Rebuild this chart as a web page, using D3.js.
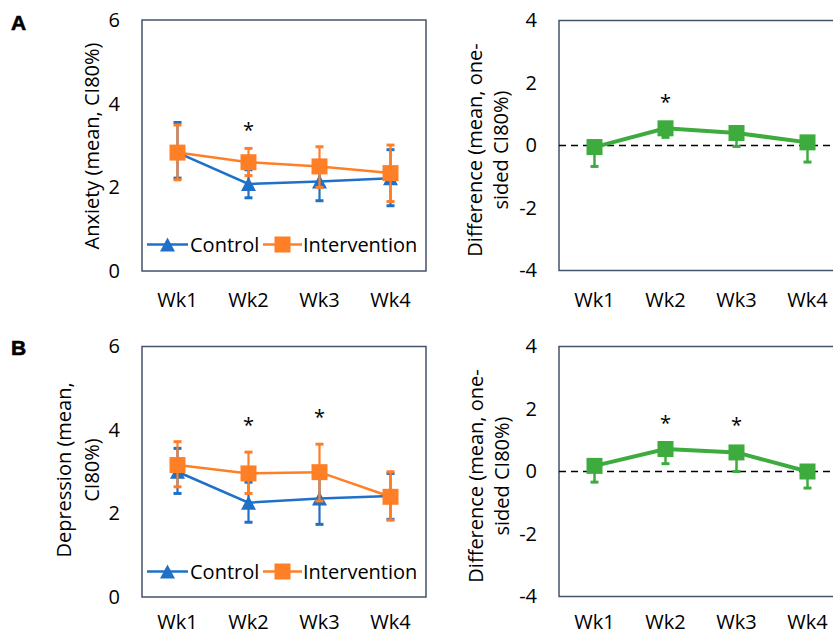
<!DOCTYPE html>
<html>
<head>
<meta charset="utf-8">
<script src="https://cdn.jsdelivr.net/npm/d3@7"></script>
<style>
    body { margin: 0; background: #fff; }
    svg { display: block; }
</style>
</head>
<body>
<script>
// ---- data ----
const weeks = ["Wk1", "Wk2", "Wk3", "Wk4"];

// A: anxiety
const anxControl = [2.83, 2.08, 2.14, 2.22];
const anxControlLo = [2.22, 1.75, 1.68, 1.56];
const anxControlHi = [3.55, 2.42, 2.60, 2.90];
const anxInterv = [2.83, 2.60, 2.50, 2.34];
const anxIntervLo = [2.18, 2.28, 2.00, 1.66];
const anxIntervHi = [3.49, 2.93, 2.97, 3.01];
const anxStars = [null, 3.57, null, null];

const anxDiff = [-0.05, 0.55, 0.40, 0.10];
const anxDiffLo = [-0.67, 0.26, -0.03, -0.53];
const anxDiffStars = [null, 1.64, null, null];

// B: depression
const depControl = [3.00, 2.26, 2.36, 2.42];
const depControlLo = [2.48, 1.79, 1.74, 1.86];
const depControlHi = [3.56, 2.75, 2.95, 2.96];
const depInterv = [3.16, 2.96, 2.99, 2.40];
const depIntervLo = [2.64, 2.48, 2.30, 1.84];
const depIntervHi = [3.72, 3.47, 3.66, 3.00];
const depStars = [null, 4.30, 4.50, null];

const depDiff = [0.18, 0.72, 0.61, 0.00];
const depDiffLo = [-0.34, 0.25, 0.00, -0.53];
const depDiffStars = [null, 1.80, 1.75, null];

const groupTicks = [0, 2, 4, 6];
const diffTicks = [-4, -2, 0, 2, 4];

// ---- styling ----
const FONT = "'Open Sans', sans-serif";
const FS = 20;
const colors = {
    control: "#1f70c8",
    intervention: "#ff7f27",
    diff: "#3dab3d",
    frame: "#44546a"
};

const svg = d3.select("body").append("svg")
    .attr("width", 833)
    .attr("height", 637)
    .attr("font-family", FONT);

// marker shapes, centred on the point
function triangle(w, h) {
    return `M0,${-h / 2}L${w / 2},${h / 2}L${-w / 2},${h / 2}Z`;
}
function square(s) {
    return `M${-s / 2},${-s / 2}h${s}v${s}h${-s}Z`;
}
const markers = {
    triangle: triangle(15, 14),
    square: square(16)
};

function frame(g, box) {
    g.append("rect")
        .attr("x", box.left)
        .attr("y", box.top)
        .attr("width", box.right - box.left)
        .attr("height", box.bottom - box.top)
        .attr("fill", "none")
        .attr("stroke", colors.frame)
        .attr("stroke-width", 1.5);
}

function axes(g, box, x, y, ticks) {
    g.append("g")
        .attr("transform", `translate(${box.left},0)`)
        .call(d3.axisLeft(y).tickValues(ticks).tickSize(0).tickPadding(22).tickFormat(d => String(d)))
        .call(a => a.select(".domain").remove())
        .attr("font-family", FONT)
        .attr("font-size", FS);

    g.append("g")
        .attr("transform", `translate(0,${box.bottom})`)
        .call(d3.axisBottom(x).tickSize(0).tickPadding(box.xPad))
        .call(a => a.select(".domain").remove())
        .attr("font-family", FONT)
        .attr("font-size", FS);
}

function yTitle(g, lines, cx, cy) {
    lines.forEach((t, i) => {
        g.append("text")
            .attr("transform", `translate(${cx[i]},${cy}) rotate(-90)`)
            .attr("text-anchor", "middle")
            .attr("dy", "0.35em")
            .attr("font-size", FS)
            .attr("fill", "#000")
            .text(t);
    });
}

function stars(g, x, y, vals) {
    g.selectAll("text.star")
        .data(weeks.map((w, i) => ({ w, v: vals[i] })).filter(d => d.v != null))
        .join("text")
        .attr("class", "star")
        .attr("x", d => x(d.w) + x.bandwidth() / 2)
        .attr("y", d => y(d.v))
        .attr("dy", "0.75em")
        .attr("text-anchor", "middle")
        .attr("font-size", FS)
        .text("*");
}

function groupPanel(box, series, starVals, title, legendY) {
    const g = svg.append("g");
    const x = d3.scaleBand().domain(weeks).range([box.left, box.right]);
    const y = d3.scaleLinear().domain([0, 6]).range([box.bottom, box.top]);
    const cx = w => x(w) + x.bandwidth() / 2;

    frame(g, box);
    axes(g, box, x, y, groupTicks);
    yTitle(g, title.lines, title.x, title.y);

    series.forEach(s => {
        const rows = weeks.map((w, i) => ({ w, v: s.values[i], lo: s.lo[i], hi: s.hi[i] }));
        const sg = g.append("g");

        sg.append("path")
            .datum(rows)
            .attr("fill", "none")
            .attr("stroke", s.color)
            .attr("stroke-width", 2.5)
            .attr("d", d3.line().x(d => cx(d.w)).y(d => y(d.v)));

        const bars = sg.selectAll("g.bar").data(rows).join("g").attr("class", "bar");
        bars.append("line")
            .attr("x1", d => cx(d.w)).attr("x2", d => cx(d.w))
            .attr("y1", d => y(d.lo)).attr("y2", d => y(d.hi))
            .attr("stroke", s.color).attr("stroke-width", 2.2);
        ["lo", "hi"].forEach(k => {
            bars.append("line")
                .attr("x1", d => cx(d.w) - 4).attr("x2", d => cx(d.w) + 4)
                .attr("y1", d => y(d[k])).attr("y2", d => y(d[k]))
                .attr("stroke", s.color).attr("stroke-width", 3);
        });

        sg.selectAll("path.mk").data(rows).join("path")
            .attr("class", "mk")
            .attr("d", markers[s.marker])
            .attr("transform", d => `translate(${cx(d.w)},${y(d.v)})`)
            .attr("fill", s.color);
    });

    stars(g, x, y, starVals);

    // legend
    const lg = g.append("g").attr("transform", `translate(${box.left},${legendY})`);
    const items = [
        { s: series[0], x0: 5, x1: 46, tx: 48 },
        { s: series[1], x0: 121, x1: 160, tx: 161 }
    ];
    items.forEach(it => {
        lg.append("line")
            .attr("x1", it.x0).attr("x2", it.x1)
            .attr("stroke", it.s.color).attr("stroke-width", 2.5);
        lg.append("path")
            .attr("d", markers[it.s.marker])
            .attr("transform", `translate(${(it.x0 + it.x1) / 2},0)`)
            .attr("fill", it.s.color);
        lg.append("text")
            .attr("x", it.tx)
            .attr("dy", "0.35em")
            .attr("font-size", FS)
            .text(it.s.name);
    });
}

function diffPanel(box, values, lo, starVals, title) {
    const g = svg.append("g");
    const x = d3.scaleBand().domain(weeks).range([box.left, box.right]);
    const y = d3.scaleLinear().domain([-4, 4]).range([box.bottom, box.top]);
    const cx = w => x(w) + x.bandwidth() / 2;
    const rows = weeks.map((w, i) => ({ w, v: values[i], lo: lo[i] }));

    frame(g, box);
    axes(g, box, x, y, diffTicks);
    yTitle(g, title.lines, title.x, title.y);

    g.append("line")
        .attr("x1", box.left).attr("x2", box.right)
        .attr("y1", y(0)).attr("y2", y(0))
        .attr("stroke", "#000")
        .attr("stroke-width", 1.6)
        .attr("stroke-dasharray", "7,5");

    g.append("path")
        .datum(rows)
        .attr("fill", "none")
        .attr("stroke", colors.diff)
        .attr("stroke-width", 4)
        .attr("d", d3.line().x(d => cx(d.w)).y(d => y(d.v)));

    const bars = g.selectAll("g.bar").data(rows).join("g").attr("class", "bar");
    bars.append("line")
        .attr("x1", d => cx(d.w)).attr("x2", d => cx(d.w))
        .attr("y1", d => y(d.v)).attr("y2", d => y(d.lo))
        .attr("stroke", colors.diff).attr("stroke-width", 2.5);
    bars.append("line")
        .attr("x1", d => cx(d.w) - 4).attr("x2", d => cx(d.w) + 4)
        .attr("y1", d => y(d.lo)).attr("y2", d => y(d.lo))
        .attr("stroke", colors.diff).attr("stroke-width", 3);

    g.selectAll("path.mk").data(rows).join("path")
        .attr("class", "mk")
        .attr("d", markers.square)
        .attr("transform", d => `translate(${cx(d.w)},${y(d.v)})`)
        .attr("fill", colors.diff);

    stars(g, x, y, starVals);
}

// panel letters
["A", "B"].forEach((t, i) => {
    svg.append("text")
        .attr("x", 11)
        .attr("y", i === 0 ? 29.5 : 354.5)
        .attr("font-family", "'Liberation Sans', Arial, sans-serif")
        .attr("font-weight", "bold")
        .attr("font-size", 21)
        .attr("stroke", "#000")
        .attr("stroke-width", 0.6)
        .text(t);
});

// A
groupPanel(
    { left: 142, right: 426, top: 20, bottom: 271, xPad: 22 },
    [
        { name: "Control", values: anxControl, lo: anxControlLo, hi: anxControlHi, color: colors.control, marker: "triangle" },
        { name: "Intervention", values: anxInterv, lo: anxIntervLo, hi: anxIntervHi, color: colors.intervention, marker: "square" }
    ],
    anxStars,
    { lines: ["Anxiety (mean, CI80%)"], x: [92], y: 146 },
    244.5
);
diffPanel(
    { left: 559, right: 843, top: 20.5, bottom: 270.5, xPad: 22 },
    anxDiff, anxDiffLo, anxDiffStars,
    { lines: ["Difference (mean, one-", "sided CI80%)"], x: [475, 501], y: 150 }
);

// B
groupPanel(
    { left: 142, right: 426, top: 346.5, bottom: 597, xPad: 18 },
    [
        { name: "Control", values: depControl, lo: depControlLo, hi: depControlHi, color: colors.control, marker: "triangle" },
        { name: "Intervention", values: depInterv, lo: depIntervLo, hi: depIntervHi, color: colors.intervention, marker: "square" }
    ],
    depStars,
    { lines: ["Depression (mean,", "CI80%)"], x: [64, 92], y: 470 },
    571.5
);
diffPanel(
    { left: 559, right: 843, top: 346.5, bottom: 596.5, xPad: 18 },
    depDiff, depDiffLo, depDiffStars,
    { lines: ["Difference (mean, one-", "sided CI80%)"], x: [476, 502], y: 476 }
);
</script>
</body>
</html>
